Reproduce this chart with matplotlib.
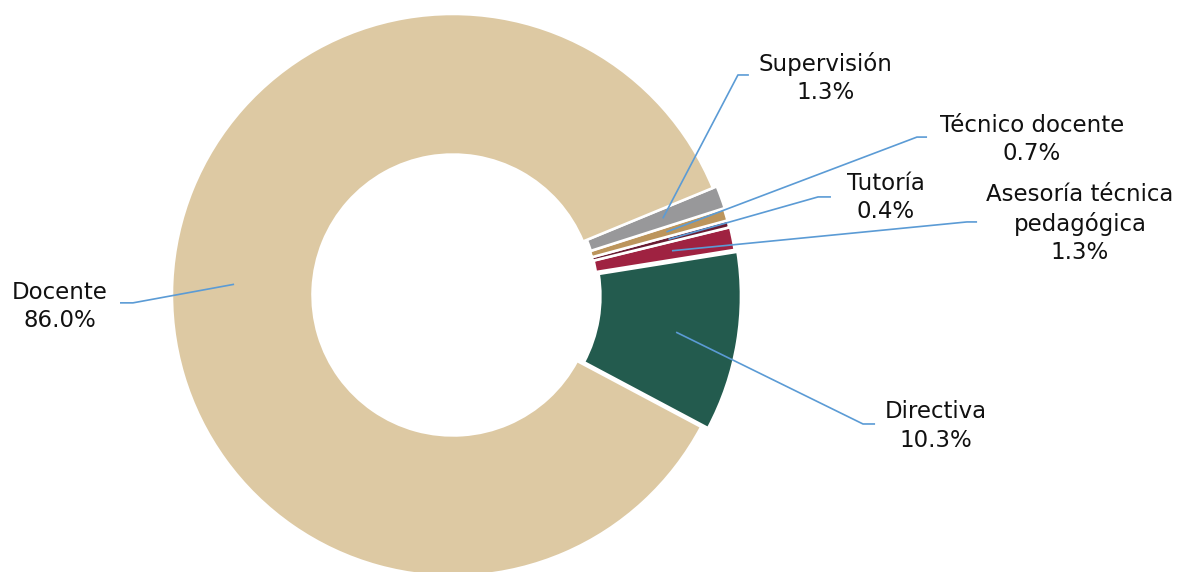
import numpy as np
import matplotlib.pyplot as plt

# =========================
# DATA
# =========================

categories = ["Directiva", "Asesoría técnica\npedagógica", "Tutoría",
              "Técnico docente", "Supervisión", "Docente"]
values = [10.3, 1.3, 0.4, 0.7, 1.3, 86.0]
colors = ["#235B4E", "#9F2241", "#691C32", "#BC955C", "#98989A", "#DDC9A3"]

# layout: explode, label text centre, elbow point, end of horizontal tick (data units)
explode = [0.025, 0.015, 0.012, 0.012, 0.015, 0.0]
label_pos = [(1.719, -0.466), (2.231, 0.253), (1.541, 0.346),
             (2.060, 0.554), (1.327, 0.773), (-1.399, -0.041)]
elbows = [(1.459, -0.459), (1.829, 0.260), (1.299, 0.349),
          (1.651, 0.562), (1.014, 0.783), (-1.139, -0.028)]
ends = [(1.502, -0.459), (1.865, 0.260), (1.345, 0.349),
        (1.687, 0.562), (1.053, 0.783), (-1.185, -0.028)]

start_angle = -28.0

# =========================
# PLOT
# =========================

fig = plt.figure(figsize=(11.86, 5.72), dpi=100)
ax = fig.add_axes([0, 0, 1, 1])

wedges, _ = ax.pie(
    values,
    colors=colors,
    explode=explode,
    startangle=start_angle,
    counterclock=True,
    radius=1.0,
    wedgeprops=dict(width=0.5, edgecolor="white", linewidth=1.8),
)

line_color = "#5B9BD5"
for w, name, v, ex, lp, el, en in zip(wedges, categories, values, explode,
                                      label_pos, elbows, ends):
    mid = np.deg2rad((w.theta1 + w.theta2) / 2)
    r0 = 0.78 + ex
    sx, sy = r0 * np.cos(mid), r0 * np.sin(mid)
    ax.plot([sx, el[0], en[0]], [sy, el[1], en[1]],
            color=line_color, lw=1.2, solid_capstyle="butt", zorder=3)
    ax.text(lp[0], lp[1], f"{name}\n{v:.1f}%", ha="center", va="center",
            fontsize=16.5, color="#111111", linespacing=1.3,
            family="DejaVu Sans")

ax.set_xlim(-453 / 281, 733 / 281)
ax.set_ylim(-277 / 281, 295 / 281)
ax.set_aspect("equal")
ax.axis("off")

fig.savefig("out.png", dpi=100)
plt.close(fig)
